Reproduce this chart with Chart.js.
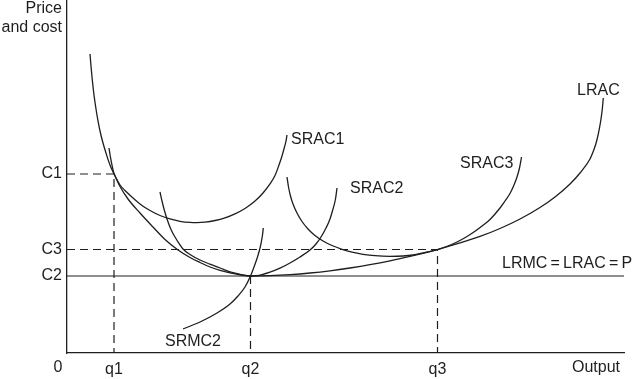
<!DOCTYPE html>
<html><head><meta charset="utf-8">
<style>html,body{margin:0;padding:0;background:#fff;}#wrap{width:633px;height:379px;}</style>
<script src="https://cdn.jsdelivr.net/npm/chart.js@4.4.1/dist/chart.umd.min.js"></script>
</head><body><div id="wrap"><canvas id="c" width="633" height="379"></canvas></div>
<script>
// Tick values and labels
const xTickValues = [9.4, 36.7, 74.1];
const xTickLabels = ['q1', 'q2', 'q3'];
const yTickValues = [51.14, 29.57, 22.0];
const yTickLabels = ['C1', 'C3', 'C2'];

// Long-run average cost
const lracX = [4.6,4.8,5.0,5.4,5.8,6.2,6.6,7.2,7.8,8.6,9.4,10.6,12.2,14.6,17.2,19.6,22.2,24.6,26.6,28.6,30.6,32.6,34.6,36.7,40.6,44.6,48.6,52.6,56.6,60.6,64.6,68.6,74.1,78.6,82.6,86.6,90.6,94.6,97.6,100.6,102.6,104.6,105.2,105.7,106.1,106.5,106.8,107.06,107.26];
const lracY = [85.43,82.0,78.86,73.71,69.71,66.29,63.43,60.0,57.14,53.71,51.14,47.57,44.0,40.0,36.0,32.43,29.43,27.29,25.86,24.57,23.63,22.89,22.34,22.0,22.11,22.4,22.86,23.49,24.29,25.23,26.34,27.63,29.57,31.43,33.29,35.57,38.29,41.57,44.57,48.29,51.43,55.43,57.43,59.43,61.57,64.29,66.86,69.71,72.86];
// Short-run average cost 1
const srac1X = [8.4,8.6,8.8,9.0,9.2,9.4,9.8,10.2,10.6,11.6,13.2,15.0,16.6,18.6,20.6,22.6,24.6,26.0,27.6,29.6,31.6,33.6,35.6,37.6,39.2,40.6,41.6,42.4,43.0,43.5,43.8,44.0];
const srac1Y = [58.57,56.71,55.14,53.71,52.34,51.34,50.06,49.0,48.0,46.43,44.29,42.14,40.71,39.29,38.29,37.63,37.31,37.26,37.4,37.86,38.63,39.77,41.29,43.43,45.71,48.29,50.71,53.71,56.29,58.86,60.57,62.29];
// Short-run average cost 2
const srac2X = [18.6,19.0,19.4,20.0,20.8,21.6,22.4,23.2,24.6,26.6,28.6,30.6,32.6,34.6,35.8,36.7,37.8,39.0,40.6,42.6,44.6,46.6,48.6,49.8,50.8,51.8,52.6,53.2,53.7,54.0];
const srac2Y = [46.0,43.43,41.14,38.29,35.29,33.14,31.29,29.71,28.14,26.57,25.37,24.29,23.2,22.49,22.17,22.0,22.09,22.4,23.09,24.23,25.71,27.43,29.43,31.14,33.14,35.71,38.29,41.14,44.0,47.14];
// Short-run average cost 3
const srac3X = [44.0,44.3,44.7,45.2,46.0,47.0,48.2,49.6,51.2,53.0,55.0,57.0,59.2,61.6,64.6,67.2,69.2,71.2,74.1,76.2,78.2,80.0,81.6,83.2,84.6,86.6,87.6,88.6,89.4,90.0,90.5,90.8,90.9];
const srac3Y = [50.29,47.43,44.86,42.57,40.0,37.57,35.43,33.57,32.0,30.71,29.63,28.8,28.2,27.8,27.63,27.71,28.0,28.6,29.57,30.57,31.86,33.29,34.77,36.49,38.14,41.43,43.43,45.57,48.0,50.29,52.86,55.14,56.0];
// Short-run marginal cost 2
const srmc2X = [23.2,26.6,30.0,32.6,34.2,35.6,36.7,37.4,38.0,38.5,38.86,39.1,39.26];
const srmc2Y = [6.86,8.86,11.43,14.0,16.29,18.86,22.0,24.57,27.0,29.43,31.71,33.71,35.71];

const X_MAX = 111.4, Y_MAX = 353 / 3.5;
const INK = '#1e1e1e';
const FONT = '"Liberation Sans", Arial, Helvetica, sans-serif';
const zip = (xs, ys) => xs.map((x, i) => ({x, y: ys[i]}));
const curve = (xs, ys) => ({data: zip(xs, ys), borderColor: INK, borderWidth: 1.3, pointRadius: 0, fill: false, cubicInterpolationMode: 'monotone'});
const dashed = (pts) => ({data: pts, borderColor: INK, borderWidth: 1.2, borderDash: [8, 5], pointRadius: 0, fill: false, tension: 0});

const [q1, q2, q3] = xTickValues;
const [c1, c3, c2] = yTickValues;

const datasets = [
  curve(lracX, lracY),
  curve(srac1X, srac1Y),
  curve(srac2X, srac2Y),
  curve(srac3X, srac3Y),
  curve(srmc2X, srmc2Y),
  dashed([{x:0,y:c1},{x:q1,y:c1},{x:q1,y:0}]),
  dashed([{x:0,y:c3},{x:q3,y:c3},{x:q3,y:0}]),
  dashed([{x:q2,y:c2},{x:q2,y:0}]),
  {data:[{x:0,y:c2},{x:X_MAX,y:c2}], borderColor: INK, borderWidth: 1.2, pointRadius: 0, fill: false, tension: 0}
];

const textLabels = {
  id: 'textLabels',
  afterDraw(chart) {
    const ctx = chart.ctx;
    ctx.save();
    ctx.fillStyle = INK;
    ctx.font = '16px ' + FONT;
    ctx.textBaseline = 'alphabetic';
    const put = (t, x, y, align) => { ctx.textAlign = align || 'left'; ctx.fillText(t, x, y); };
    put('Price', 62, 13, 'right');
    put('and cost', 62, 32, 'right');
    put('0', 58, 372, 'center');
    put('Output', 572, 372);
    put('SRAC1', 291, 144);
    put('SRAC2', 350, 193);
    put('SRAC3', 460, 168);
    put('LRAC', 577, 95);
    put('SRMC2', 165, 346);
    put('LRMC\u2009=\u2009LRAC\u2009=\u2009P', 502, 268);
    ctx.restore();
  }
};

new Chart(document.getElementById('c'), {
  type: 'line',
  data: {datasets},
  options: {
    responsive: false,
    devicePixelRatio: 1,
    animation: false,
    layout: {padding: {left: 0, top: 0, right: 9, bottom: 0}},
    plugins: {legend: {display: false}, tooltip: {enabled: false}},
    scales: {
      x: {
        type: 'linear', min: 0, max: X_MAX,
        grid: {display: false, drawTicks: false},
        border: {display: true, color: INK, width: 1.3},
        afterBuildTicks: s => { s.ticks = xTickValues.map(v => ({value: v})); },
        afterFit: s => { s.height = 26; s.paddingLeft = 0; s.paddingRight = 0; },
        ticks: {autoSkip: false, maxRotation: 0, padding: 7, color: INK, font: {size: 16, family: FONT},
          callback: (v, i) => xTickLabels[i]}
      },
      y: {
        type: 'linear', min: 0, max: Y_MAX,
        grid: {display: false, drawTicks: false},
        border: {display: true, color: INK, width: 1.3},
        afterBuildTicks: s => { s.ticks = yTickValues.map(v => ({value: v})); },
        afterFit: s => { s.width = 67; s.paddingTop = 0; s.paddingBottom = 0; },
        ticks: {autoSkip: false, padding: 5, color: INK, font: {size: 16, family: FONT},
          callback: (v, i) => yTickLabels[i]}
      }
    }
  },
  plugins: [textLabels]
});
</script></body></html>
